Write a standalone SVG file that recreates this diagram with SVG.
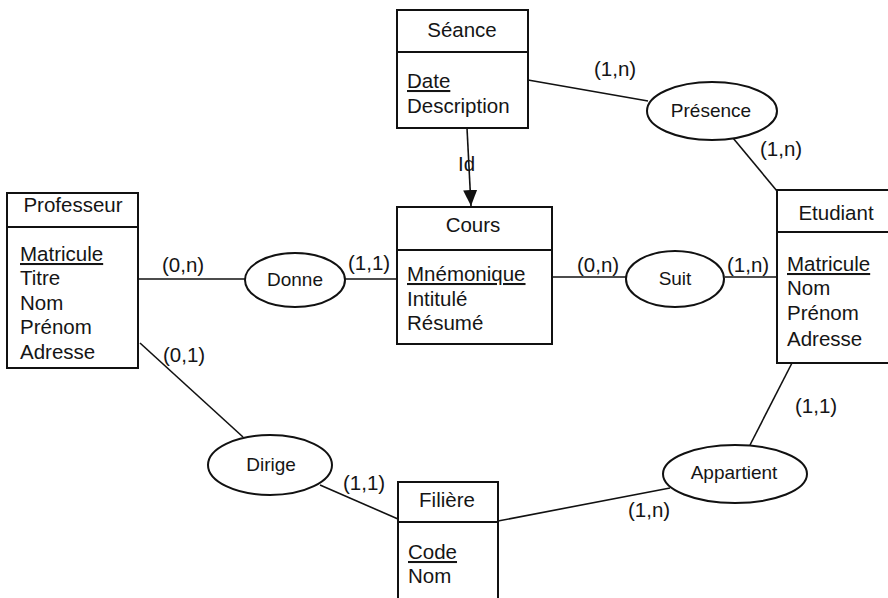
<svg xmlns="http://www.w3.org/2000/svg" width="888" height="598" viewBox="0 0 888 598">
  <defs>
    <marker id="arrow" markerWidth="16" markerHeight="14" refX="16" refY="7" orient="auto" markerUnits="userSpaceOnUse" viewBox="0 0 16 14">
      <path d="M0,0 L16,7 L0,14 Z" fill="#111"/>
    </marker>
    <style>
      text { font-family: "Liberation Sans", Arial, sans-serif; fill: #151515; }
      .t { font-size: 20.5px; }
      .title { font-size: 20.5px; text-anchor: middle; }
      .rel { font-size: 19px; text-anchor: middle; }
      .card { font-size: 20.5px; }
      .key { text-decoration: underline; }
      .box { fill: none; stroke: #111; stroke-width: 2; }
      .ell { fill: #fff; stroke: #111; stroke-width: 2; }
      .link { stroke: #111; stroke-width: 1.6; fill: none; }
    </style>
  </defs>
  <rect width="888" height="598" fill="#fff"/>

  <!-- connectors -->
  <g id="connectors">
    <line class="link" x1="528" y1="80" x2="648" y2="101"/>
    <line class="link" x1="733" y1="138" x2="777" y2="191"/>
    <line class="link" x1="138" y1="279" x2="245" y2="279"/>
    <line class="link" x1="345" y1="279" x2="397" y2="279"/>
    <line class="link" x1="552" y1="277" x2="626" y2="277"/>
    <line class="link" x1="725" y1="277" x2="777" y2="277"/>
    <line class="link" x1="140" y1="343" x2="243" y2="437"/>
    <line class="link" x1="320" y1="485" x2="398" y2="519"/>
    <line class="link" x1="498" y1="521" x2="670" y2="488"/>
    <line class="link" x1="750" y1="445" x2="792" y2="363"/>
    <line class="link" x1="467" y1="128" x2="471" y2="206" marker-end="url(#arrow)"/>
    <text class="card" x="458" y="171">Id</text>

    <text class="card" x="594" y="76">(1,n)</text>
    <text class="card" x="760" y="156">(1,n)</text>
    <text class="card" x="162" y="272">(0,n)</text>
    <text class="card" x="348" y="270">(1,1)</text>
    <text class="card" x="577" y="272">(0,n)</text>
    <text class="card" x="727" y="272">(1,n)</text>
    <text class="card" x="163" y="362">(0,1)</text>
    <text class="card" x="343" y="490">(1,1)</text>
    <text class="card" x="628" y="517">(1,n)</text>
    <text class="card" x="795" y="413">(1,1)</text>
  </g>

  <!-- entities -->
  <g id="seance">
    <rect class="box" x="397" y="10" width="131" height="118"/>
    <line class="box" x1="397" y1="52" x2="528" y2="52"/>
    <text class="title" x="462" y="37">Séance</text>
    <text class="t key" x="407" y="88">Date</text>
    <text class="t" x="407" y="113">Description</text>
  </g>

  <g id="professeur">
    <rect class="box" x="7" y="193" width="131" height="175"/>
    <line class="box" x1="7" y1="227" x2="138" y2="227"/>
    <text class="title" x="73" y="212">Professeur</text>
    <text class="t key" x="20" y="261">Matricule</text>
    <text class="t" x="20" y="285">Titre</text>
    <text class="t" x="20" y="310">Nom</text>
    <text class="t" x="20" y="334">Prénom</text>
    <text class="t" x="20" y="359">Adresse</text>
  </g>

  <g id="cours">
    <rect class="box" x="397" y="207" width="155" height="137"/>
    <line class="box" x1="397" y1="250" x2="552" y2="250"/>
    <text class="title" x="473" y="232">Cours</text>
    <text class="t key" x="407" y="281">Mnémonique</text>
    <text class="t" x="407" y="306">Intitulé</text>
    <text class="t" x="407" y="330">Résumé</text>
  </g>

  <g id="etudiant">
    <rect class="box" x="777" y="190" width="130" height="173"/>
    <line class="box" x1="777" y1="232" x2="907" y2="232"/>
    <text class="title" x="836" y="220">Etudiant</text>
    <text class="t key" x="787" y="271">Matricule</text>
    <text class="t" x="787" y="295">Nom</text>
    <text class="t" x="787" y="320">Prénom</text>
    <text class="t" x="787" y="346">Adresse</text>
  </g>

  <g id="filiere">
    <rect class="box" x="398" y="482" width="100" height="130"/>
    <line class="box" x1="398" y1="522" x2="498" y2="522"/>
    <text class="title" x="447" y="507">Filière</text>
    <text class="t key" x="408" y="559">Code</text>
    <text class="t" x="408" y="583">Nom</text>
  </g>

  <!-- relationships -->
  <g id="presence">
    <ellipse class="ell" cx="712" cy="111" rx="65" ry="29"/>
    <text class="rel" x="711" y="117">Présence</text>
  </g>
  <g id="donne">
    <ellipse class="ell" cx="295" cy="280" rx="50" ry="27"/>
    <text class="rel" x="295" y="286">Donne</text>
  </g>
  <g id="suit">
    <ellipse class="ell" cx="675" cy="279" rx="49" ry="28"/>
    <text class="rel" x="675" y="285">Suit</text>
  </g>
  <g id="dirige">
    <ellipse class="ell" cx="270" cy="465" rx="62" ry="30"/>
    <text class="rel" x="271" y="471">Dirige</text>
  </g>
  <g id="appartient">
    <ellipse class="ell" cx="735" cy="474" rx="72" ry="29"/>
    <text class="rel" x="734" y="479">Appartient</text>
  </g>
</svg>
